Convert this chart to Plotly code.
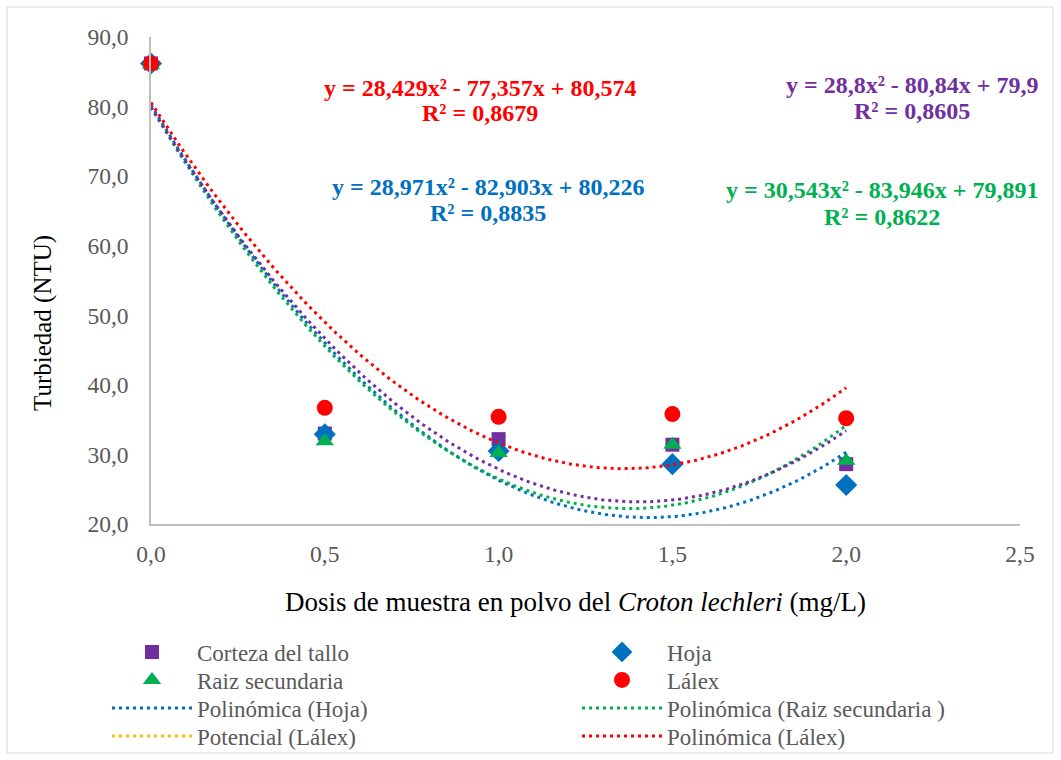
import numpy as np
import plotly.graph_objects as go

# Dosis (mg/L) and measured turbidity (NTU) for each part of Croton lechleri
dosis = [0.0, 0.5, 1.0, 1.5, 2.0]
corteza = [86.2, 33.0, 32.2, 31.4, 28.6]
hoja = [86.2, 32.9, 30.5, 28.6, 25.6]
raiz = [86.0, 31.9, 30.2, 31.4, 29.1]
lalex = [86.2, 36.7, 35.4, 35.8, 35.2]

# Second-order polynomial trendline coefficients (a, b, c) for a*x^2 + b*x + c
coef_corteza = [28.8, -80.84, 79.9]
coef_hoja = [28.971, -82.903, 80.226]
coef_raiz = [30.543, -83.946, 79.891]
coef_lalex = [28.429, -77.357, 80.574]

eq_corteza = ["y = 28,8x² - 80,84x + 79,9", "R² = 0,8605"]
eq_hoja = ["y = 28,971x² - 82,903x + 80,226", "R² = 0,8835"]
eq_raiz = ["y = 30,543x² - 83,946x + 79,891", "R² = 0,8622"]
eq_lalex = ["y = 28,429x² - 77,357x + 80,574", "R² = 0,8679"]

x_ticks = [0.0, 0.5, 1.0, 1.5, 2.0, 2.5]
x_ticktext = ["0,0", "0,5", "1,0", "1,5", "2,0", "2,5"]
y_ticks = [20, 30, 40, 50, 60, 70, 80, 90]
y_ticktext = ["20,0", "30,0", "40,0", "50,0", "60,0", "70,0", "80,0", "90,0"]

PURPLE = "#7030A0"
BLUE = "#0070C0"
GREEN = "#00B050"
RED = "#FF0000"
YELLOW = "#FFC000"
FONT = "Liberation Serif, Times New Roman, DejaVu Serif, serif"
DOT = "3px,4px"

W, H = 1061, 760
ML, MR, MT, MB = 151, 41, 37, 236
PW, PH = W - ML - MR, H - MT - MB


def px_x(px):
    """Horizontal pixel position -> paper coordinate."""
    return (px - ML) / PW


def px_y(py):
    """Vertical pixel position (from top) -> paper coordinate."""
    return (H - MB - py) / PH


xs = np.linspace(0, 2, 200)


def poly(c):
    return c[0] * xs ** 2 + c[1] * xs + c[2]


fig = go.Figure()

fig.add_trace(go.Scatter(x=dosis, y=corteza, mode="markers", name="Corteza del tallo",
                         legend="legend", cliponaxis=False,
                         marker=dict(symbol="square", size=14, color=PURPLE)))
fig.add_trace(go.Scatter(x=dosis, y=hoja, mode="markers", name="Hoja", legend="legend2",
                         cliponaxis=False,
                         marker=dict(symbol="diamond", size=17, color=BLUE)))
fig.add_trace(go.Scatter(x=dosis, y=raiz, mode="markers", name="Raiz secundaria",
                         legend="legend3", cliponaxis=False,
                         marker=dict(symbol="triangle-up", size=16, color=GREEN)))
fig.add_trace(go.Scatter(x=dosis, y=lalex, mode="markers", name="Lálex", legend="legend4",
                         cliponaxis=False,
                         marker=dict(symbol="circle", size=16, color=RED)))

fig.add_trace(go.Scatter(x=xs, y=poly(coef_hoja), mode="lines", name="Polinómica (Hoja)",
                         legend="legend5", line=dict(color=BLUE, width=3, dash=DOT)))
fig.add_trace(go.Scatter(x=xs, y=poly(coef_raiz), mode="lines",
                         name="Polinómica (Raiz secundaria )", legend="legend6",
                         line=dict(color=GREEN, width=3, dash=DOT)))
fig.add_trace(go.Scatter(x=[None], y=[None], mode="lines", name="Potencial (Lálex)",
                         legend="legend7", line=dict(color=YELLOW, width=3, dash=DOT)))
fig.add_trace(go.Scatter(x=xs, y=poly(coef_lalex), mode="lines", name="Polinómica (Lálex)",
                         legend="legend8", line=dict(color=RED, width=3, dash=DOT)))
fig.add_trace(go.Scatter(x=xs, y=poly(coef_corteza), mode="lines",
                         name="Polinómica (Corteza del tallo)", showlegend=False,
                         line=dict(color=PURPLE, width=3, dash=DOT)))

# Trendline equations: one annotation per text line (equation, R²)
for lines, color, cx, y1, y2 in [
    (eq_lalex, RED, 480, 88, 113),
    (eq_hoja, BLUE, 488, 187, 213),
    (eq_corteza, PURPLE, 912, 85, 111),
    (eq_raiz, GREEN, 882, 190, 217),
]:
    for text, py in zip(lines, (y1, y2)):
        fig.add_annotation(x=px_x(cx), y=px_y(py), xref="paper", yref="paper", text=text,
                           showarrow=False, xanchor="center", yanchor="middle",
                           font=dict(family=FONT, size=24, color=color, weight="bold"))

# Axis titles
fig.add_annotation(x=px_x(575), y=px_y(602), xref="paper", yref="paper",
                   text="Dosis de muestra en polvo del <i>Croton lechleri</i> (mg/L)",
                   showarrow=False, xanchor="center", yanchor="middle",
                   font=dict(family=FONT, size=27, color="#000000"))
fig.add_annotation(x=px_x(43), y=px_y(323), xref="paper", yref="paper",
                   text="Turbiedad (NTU)", textangle=-90,
                   showarrow=False, xanchor="center", yanchor="middle",
                   font=dict(family=FONT, size=25, color="#000000"))

# Chart border
fig.add_shape(type="rect", xref="paper", yref="paper",
              x0=px_x(7), x1=px_x(1053), y0=px_y(753), y1=px_y(7),
              line=dict(color="#D9D9D9", width=1))

axis_common = dict(showgrid=False, zeroline=False, showline=True, linecolor="#BFBFBF",
                   linewidth=1.5, tickfont=dict(family=FONT, size=23.5, color="#595959"),
                   ticks="")

fig.update_xaxes(range=[0, 2.5], tickvals=x_ticks, ticktext=x_ticktext,
                 ticklabelstandoff=8, **axis_common)
fig.update_yaxes(range=[20, 90], tickvals=y_ticks, ticktext=y_ticktext,
                 ticklabelstandoff=16, **axis_common)

# Two-column legend: one single-entry legend per cell
legend_common = dict(orientation="v", yanchor="middle", xanchor="left",
                     itemwidth=80, bgcolor="rgba(0,0,0,0)",
                     font=dict(family=FONT, size=23, color="#595959"))
col_px = [107, 577]
row_px = [652, 680, 708, 736]
legends = {}
for i in range(8):
    key = "legend" if i == 0 else f"legend{i + 1}"
    legends[key] = dict(x=px_x(col_px[i % 2]), y=px_y(row_px[i // 2]), **legend_common)

fig.update_layout(
    width=W, height=H,
    margin=dict(l=ML, r=MR, t=MT, b=MB, autoexpand=False),
    paper_bgcolor="white", plot_bgcolor="white",
    font=dict(family=FONT),
    **legends,
)

fig.write_html("out.html")
